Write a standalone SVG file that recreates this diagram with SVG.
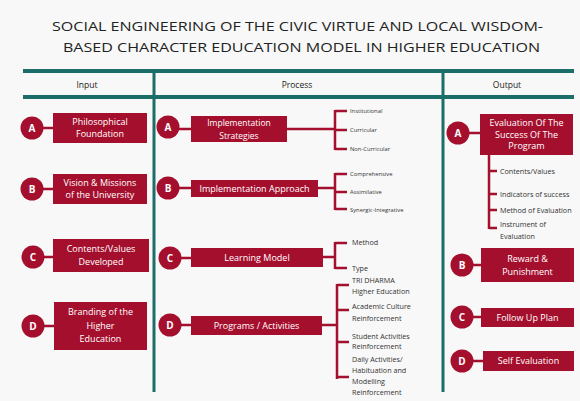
<svg xmlns="http://www.w3.org/2000/svg" width="580" height="401" viewBox="0 0 580 401">
<defs>
<style>
text{font-family:"Open Sans","Noto Sans","DejaVu Sans",sans-serif}
.title{font-size:13px;fill:#222}
.hdr{font-size:8.5px;fill:#222;text-anchor:middle}
.teal{stroke:#1d6d69;fill:none}
.box{fill:#a50f2e}
.circ{fill:#a50f2e}
.lnk{stroke:#a50f2e;stroke-width:2.5;fill:none}
.bt{fill:#fff;font-size:9px;text-anchor:middle}
.let{fill:#fff;font-size:10px;font-weight:bold;text-anchor:middle}
.sm{fill:#333;font-size:5.8px}
.md{fill:#333;font-size:7.2px}
</style>
</defs>
<rect width="580" height="401" fill="#f8f8f8"/>
<text class="title" x="52" y="31" textLength="491" lengthAdjust="spacingAndGlyphs">SOCIAL ENGINEERING OF THE CIVIC VIRTUE AND LOCAL WISDOM-</text>
<text class="title" x="63" y="52" textLength="477" lengthAdjust="spacingAndGlyphs">BASED CHARACTER EDUCATION MODEL IN HIGHER EDUCATION</text>
<g id="table">
<line class="teal" x1="23" y1="71" x2="574" y2="71" stroke-width="4"/>
<line class="teal" x1="23" y1="97" x2="574" y2="97" stroke-width="4"/>
<line class="teal" x1="154" y1="71" x2="154" y2="392" stroke-width="3"/>
<line class="teal" x1="443" y1="71" x2="443" y2="392" stroke-width="3"/>
<text class="hdr" x="87" y="88">Input</text>
<text class="hdr" x="297" y="88">Process</text>
<text class="hdr" x="507" y="88">Output</text>
</g>
<g id="connectors">
<line class="lnk" x1="40" y1="128" x2="53" y2="128"/>
<line class="lnk" x1="40" y1="189" x2="53" y2="189"/>
<line class="lnk" x1="41" y1="257" x2="53" y2="257"/>
<line class="lnk" x1="41" y1="326" x2="54" y2="326"/>
<line class="lnk" x1="176" y1="129" x2="191" y2="129"/>
<line class="lnk" x1="176" y1="188" x2="191" y2="188"/>
<line class="lnk" x1="178" y1="258" x2="191" y2="258"/>
<line class="lnk" x1="178" y1="325" x2="191" y2="325"/>
<line class="lnk" x1="466" y1="133" x2="480" y2="133"/>
<line class="lnk" x1="470" y1="265" x2="481" y2="265"/>
<line class="lnk" x1="470" y1="317" x2="481" y2="317"/>
<line class="lnk" x1="470" y1="361" x2="483" y2="361"/>
<path class="lnk" d="M287 129H335M335 110V150M335 111H347M335 130H347M335 149H347"/>
<path class="lnk" d="M318 188H335M335 173V210M335 174H347M335 192H347M335 209H347"/>
<path class="lnk" d="M323 257H335M335 242V269M335 243H347M335 268H347"/>
<path class="lnk" d="M322 325H337M337 284V379M337 285H349M337 310H349M337 342H349M337 377H349"/>
<path class="lnk" d="M489 155V229M489 171H497M489 194H497M489 210H497M489 228H497"/>
</g>
<g id="in-a"><circle class="circ" cx="32" cy="128" r="11.5"/><text class="let" x="32" y="131.5">A</text><rect class="box" x="53" y="113" width="94" height="30"/><text class="bt" x="100" y="125">Philosophical</text><text class="bt" x="100" y="137">Foundation</text></g>
<g id="in-b"><circle class="circ" cx="32" cy="189" r="11.5"/><text class="let" x="32" y="192.5">B</text><rect class="box" x="53" y="174" width="94" height="30"/><text class="bt" x="100" y="186">Vision &amp; Missions</text><text class="bt" x="100" y="198">of the University</text></g>
<g id="in-c"><circle class="circ" cx="33" cy="257" r="11.5"/><text class="let" x="33" y="260.5">C</text><rect class="box" x="53" y="239" width="96" height="33"/><text class="bt" x="101" y="252">Contents/Values</text><text class="bt" x="101" y="265">Developed</text></g>
<g id="in-d"><circle class="circ" cx="33" cy="326" r="11.5"/><text class="let" x="33" y="329.5">D</text><rect class="box" x="54" y="302" width="93" height="48"/><text class="bt" x="100.5" y="315">Branding of the</text><text class="bt" x="100.5" y="328.5">Higher</text><text class="bt" x="100.5" y="342">Education</text></g>
<g id="pr-a"><circle class="circ" cx="168" cy="127" r="11.5"/><text class="let" x="168" y="130.5">A</text><rect class="box" x="191" y="116" width="96" height="26"/><text class="bt" x="239" y="126" style="font-size:8.5px">Implementation</text><text class="bt" x="239" y="138.5" style="font-size:8.5px">Strategies</text>
<text class="sm" x="350" y="113">Institutional</text><text class="sm" x="350" y="132">Curricular</text><text class="sm" x="350" y="151">Non-Curricular</text></g>
<g id="pr-b"><circle class="circ" cx="168" cy="188" r="11.5"/><text class="let" x="168" y="191.5">B</text><rect class="box" x="191" y="180" width="127" height="17"/><text class="bt" x="254.5" y="191.5">Implementation Approach</text>
<text class="sm" x="350" y="176">Comprehensive</text><text class="sm" x="350" y="194">Assimilative</text><text class="sm" x="350" y="211.5">Synergic-Integrative</text></g>
<g id="pr-c"><circle class="circ" cx="170" cy="258" r="11.5"/><text class="let" x="170" y="261.5">C</text><rect class="box" x="191" y="248" width="132" height="19"/><text class="bt" x="257" y="260.5">Learning Model</text>
<text class="md" x="352" y="245">Method</text><text class="md" x="352" y="270.5">Type</text></g>
<g id="pr-d"><circle class="circ" cx="170" cy="325" r="11.5"/><text class="let" x="170" y="328.5">D</text><rect class="box" x="191" y="316" width="131" height="19"/><text class="bt" x="256.5" y="328.5">Programs / Activities</text>
<text class="md" x="352" y="283">TRI DHARMA</text><text class="md" x="352" y="293.5">Higher Education</text>
<text class="md" x="352" y="309">Academic Culture</text><text class="md" x="352" y="321">Reinforcement</text>
<text class="md" x="352" y="338.5">Student Activities</text><text class="md" x="352" y="348.5">Reinforcement</text>
<text class="md" x="352" y="362">Daily Activities/</text><text class="md" x="352" y="373">Habituation and</text><text class="md" x="352" y="384">Modelling</text><text class="md" x="352" y="395">Reinforcement</text></g>
<g id="out-a"><circle class="circ" cx="458" cy="133" r="11.5"/><text class="let" x="458" y="136.5">A</text><rect class="box" x="480" y="114" width="93" height="41"/><text class="bt" x="526.5" y="126">Evaluation Of The</text><text class="bt" x="526.5" y="137.5">Success Of The</text><text class="bt" x="526.5" y="149">Program</text>
<text class="md" x="500" y="173.5">Contents/Values</text><text class="md" x="500" y="196.5">Indicators of success</text><text class="md" x="500" y="212.5">Method of Evaluation</text><text class="md" x="500" y="227">Instrument of</text><text class="md" x="500" y="238.5">Evaluation</text></g>
<g id="out-b"><circle class="circ" cx="462" cy="265" r="11.5"/><text class="let" x="462" y="268.5">B</text><rect class="box" x="481" y="248" width="93" height="34"/><text class="bt" x="527.5" y="262">Reward &amp;</text><text class="bt" x="527.5" y="275">Punishment</text></g>
<g id="out-c"><circle class="circ" cx="462" cy="317" r="11.5"/><text class="let" x="462" y="320.5">C</text><rect class="box" x="481" y="308" width="93" height="19"/><text class="bt" x="527.5" y="320.5">Follow Up Plan</text></g>
<g id="out-d"><circle class="circ" cx="462" cy="361" r="11.5"/><text class="let" x="462" y="364.5">D</text><rect class="box" x="483" y="351" width="91" height="20"/><text class="bt" x="528.5" y="364">Self Evaluation</text></g>
</svg>
